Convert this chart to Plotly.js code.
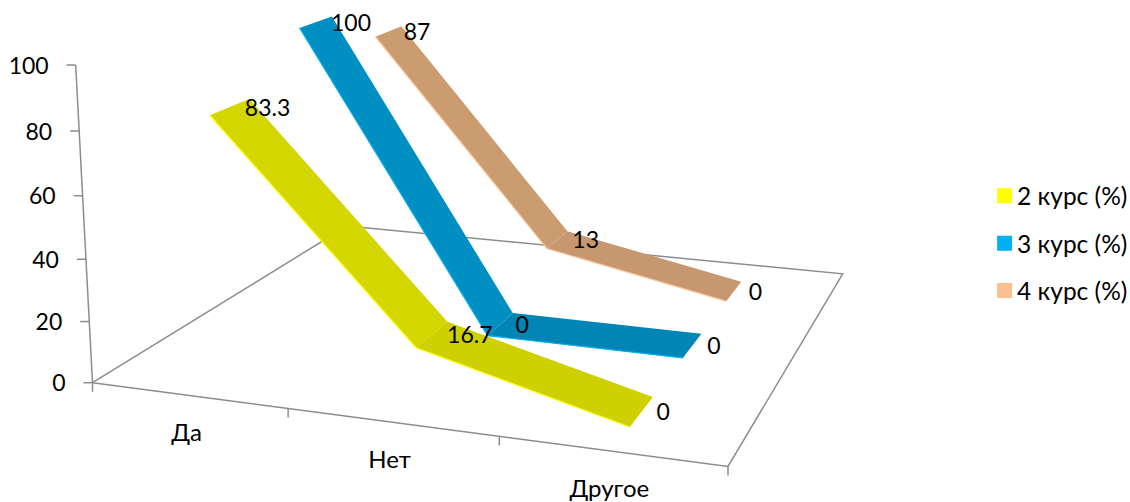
<!DOCTYPE html>
<html><head><meta charset="utf-8">
<script src="https://cdn.plot.ly/plotly-3.0.1.min.js"></script>
<style>html,body{margin:0;padding:0;background:#fff}#c{width:1130px;height:502px}</style>
</head><body><div id="c"></div>
<script>
const categories = ['Да', 'Нет', 'Другое'];
const seriesNames = ['2 курс (%)', '3 курс (%)', '4 курс (%)'];
const kurs2 = [83.3, 16.7, 0];
const kurs3 = [100, 0, 0];
const kurs4 = [87, 13, 0];
const valueTicks = [0, 20, 40, 60, 80, 100];
const seriesValues = [kurs2, kurs3, kurs4];

const ribbonDepth = [[0.10, 0.235], [0.429, 0.562], [0.757, 0.885]];
const segColors = [['#d4d600', '#cfd000'], ['#008fc2', '#0085b4'], ['#cc9c71', '#c79870']];
const edgeColors = ['#ffff00', '#00b0f0', '#fac090'];
const legendColors = ['#ffff00', '#00b0f0', '#fac090'];
const FONT = 'Lato, Carlito, "Open Sans", sans-serif';
const AXIS = '#8c8c8c';

// Perspective of the 3-D box: floor corners in chart-plane units, vertical vanishing point.
const A = [92.5, 382.7], B = [728, 466.5], C = [842.7, 273.8], D = [347, 226];
const VV = [437, 6890], ZW = -0.0004655;
function floorMatrix() {
  const dx1 = B[0] - C[0], dx2 = D[0] - C[0], sx = A[0] - B[0] + C[0] - D[0];
  const dy1 = B[1] - C[1], dy2 = D[1] - C[1], sy = A[1] - B[1] + C[1] - D[1];
  const den = dx1 * dy2 - dx2 * dy1;
  const g = (sx * dy2 - dx2 * sy) / den, h = (dx1 * sy - sx * dy1) / den;
  return {a: B[0] - A[0] + g * B[0], b: D[0] - A[0] + h * D[0], d: B[1] - A[1] + g * B[1], e: D[1] - A[1] + h * D[1], g, h};
}
const M = floorMatrix();
// s: position along categories (0..n), t: depth 0..1, z: value
function project(s, t, z) {
  const u = s / categories.length;
  const X = M.a * u + M.b * t + A[0] + z * ZW * VV[0];
  const Y = M.d * u + M.e * t + A[1] + z * ZW * VV[1];
  const W = M.g * u + M.h * t + 1 + z * ZW;
  return [X / W, Y / W];
}
function lineTrace(pts, color, width) {
  return {type: 'scatter', mode: 'lines', x: pts.map(p => p[0]), y: pts.map(p => p[1]),
    line: {color, width}, hoverinfo: 'skip', showlegend: false};
}
function textTrace(pts, labels, pos, size) {
  return {type: 'scatter', mode: 'text', x: pts.map(p => p[0]), y: pts.map(p => p[1]), text: labels,
    textposition: pos, textfont: {family: FONT, size: size, color: '#000'}, hoverinfo: 'skip', showlegend: false};
}
const traces = [];
// Box
traces.push(lineTrace([project(0, 0, 0), project(3, 0, 0), project(3, 1, 0), project(0, 1, 0), project(0, 0, 0)], AXIS, 1.5));
traces.push(lineTrace([project(0, 0, 0), project(0, 0, 100)], AXIS, 1.5));
valueTicks.forEach(v => { const p = project(0, 0, v); traces.push(lineTrace([p, [p[0] - 9, p[1]]], AXIS, 1.5)); });
[0, 1, 2, 3].forEach(k => { const p = project(k, 0, 0); traces.push(lineTrace([p, [p[0], p[1] + 9]], AXIS, 1.5)); });
// Ribbons, back to front
[2, 1, 0].forEach(i => {
  const vals = seriesValues[i], [t0, t1] = ribbonDepth[i];
  for (let j = 0; j < vals.length - 1; j++) {
    const pts = [project(j + .5, t0, vals[j]), project(j + 1.5, t0, vals[j + 1]), project(j + 1.5, t1, vals[j + 1]), project(j + .5, t1, vals[j])];
    traces.push({type: 'scatter', mode: 'lines', fill: 'toself', fillcolor: segColors[i][j],
      x: pts.map(p => p[0]).concat(pts[0][0]), y: pts.map(p => p[1]).concat(pts[0][1]),
      line: {width: 0, color: segColors[i][j]}, hoverinfo: 'skip', showlegend: false});
  }
  traces.push(lineTrace(vals.map((v, j) => project(j + .5, t0, v)), edgeColors[i], 1.2));
});
// Labels
const LABEL_GAP = 15, LABEL_DROP = 3;
[0, 1, 2].forEach(i => {
  const [t0, t1] = ribbonDepth[i];
  const pts = seriesValues[i].map((v, j) => { const p = project(j + .5, (t0 + t1) / 2, v); return [p[0] + LABEL_GAP, p[1] + LABEL_DROP]; });
  traces.push(textTrace(pts, seriesValues[i].map(String), 'middle right', 23));
});
traces.push(textTrace(valueTicks.map(v => { const p = project(0, 0, v); return [p[0] - 27, p[1] + LABEL_DROP]; }), valueTicks.map(String), 'middle left', 23));
traces.push(textTrace(categories.map((c, k) => { const p = project(k + .5, 0, 0); return [p[0] - 2, p[1] + 39.5]; }), categories, 'middle center', 24));
// Legend
seriesNames.forEach((n, i) => traces.push({type: 'scatter', mode: 'markers', name: n, legendgroup: n, x: [null], y: [null],
  marker: {symbol: 'square', size: 15, color: legendColors[i]}, hoverinfo: 'skip'}));

Plotly.newPlot('c', traces, {
  width: 1130, height: 502, margin: {l: 0, r: 0, t: 0, b: 0, autoexpand: false}, paper_bgcolor: '#fff', plot_bgcolor: '#fff',
  xaxis: {range: [0, 1130], visible: false, fixedrange: true},
  yaxis: {range: [502, 0], visible: false, fixedrange: true},
  legend: {x: 0.8647, y: 0.6545, xanchor: 'left', yanchor: 'top', font: {family: FONT, size: 24.5, color: '#000'},
    tracegroupgap: 12.5, itemwidth: 30, bgcolor: 'rgba(0,0,0,0)'},
  showlegend: true
}, {displayModeBar: false, staticPlot: true}).then(gd => {
  gd.querySelectorAll('.legend .legendsymbols').forEach(s => s.setAttribute('transform', 'translate(7.5,0)'));
});
</script></body></html>
